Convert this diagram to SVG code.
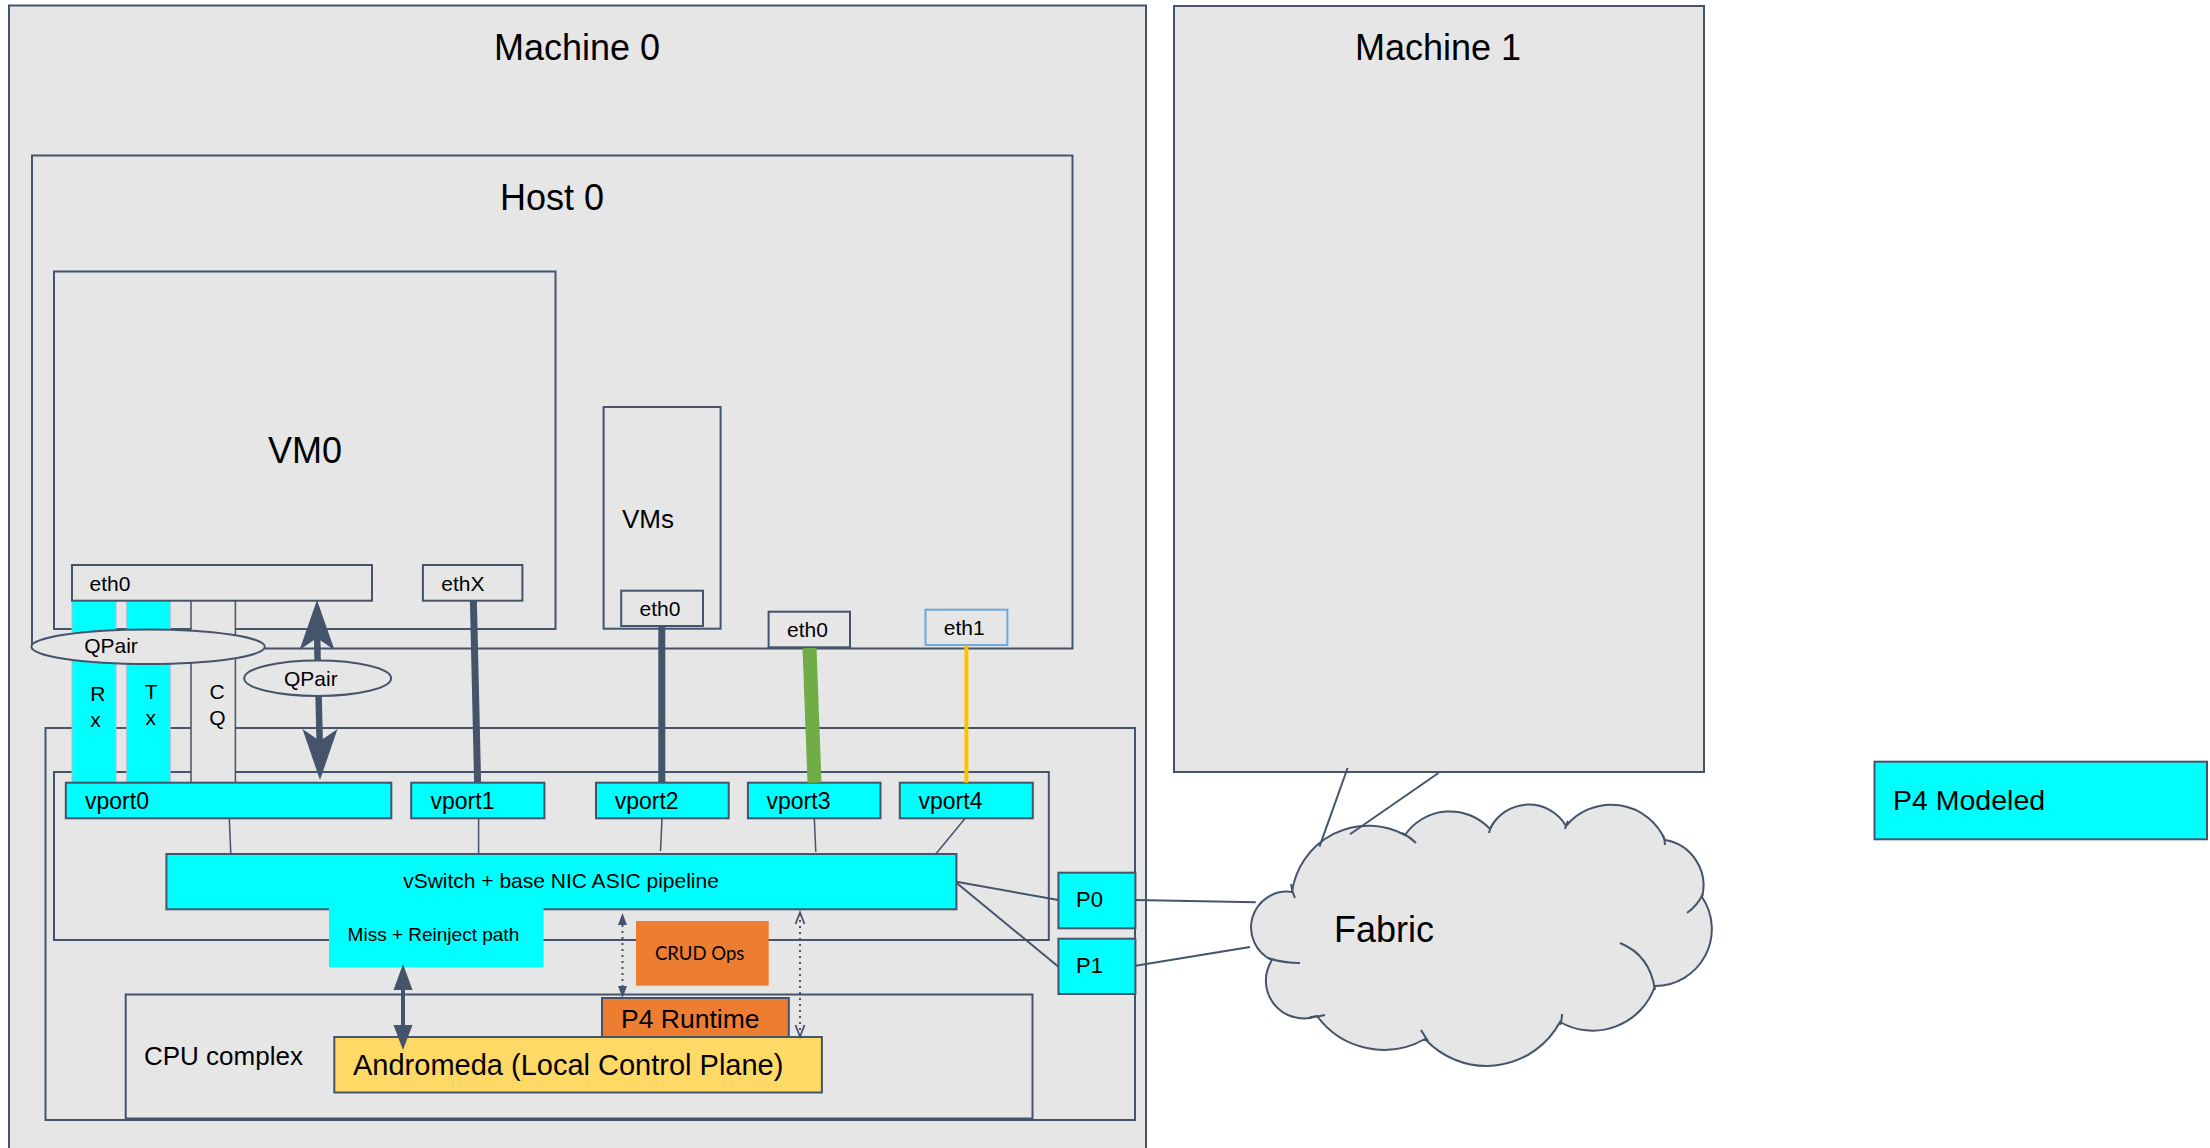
<svg xmlns="http://www.w3.org/2000/svg" width="2210" height="1148" viewBox="0 0 2210 1148">
<style>
.box{fill:#e6e6e6;stroke:#44546a;stroke-width:2}
.cy{fill:#00ffff;stroke:#44546a;stroke-width:2}
.col{fill:#00ffff;stroke:#a9bccb;stroke-width:1}
.t{font-family:"Liberation Sans",Arial,sans-serif;fill:#000}
.ln{stroke:#44546a;fill:none}
.ah{fill:#44546a;stroke:none}
</style>
<rect width="2210" height="1148" fill="#ffffff"/>

<g id="machine0">
<rect class="box" x="9" y="5.5" width="1137" height="1160"/>
<text class="t" x="577" y="60" font-size="36" text-anchor="middle">Machine 0</text>
</g>
<g id="machine1">
<rect class="box" x="1174" y="6" width="530" height="766"/>
<text class="t" x="1438" y="60" font-size="36" text-anchor="middle">Machine 1</text>
</g>
<g id="host0">
<rect class="box" x="32" y="155.5" width="1040.5" height="493"/>
<text class="t" x="552" y="210" font-size="36" text-anchor="middle">Host 0</text>
</g>
<g id="vm0">
<rect class="box" x="54" y="271.5" width="501.5" height="357.5"/>
<text class="t" x="305" y="463" font-size="36" text-anchor="middle">VM0</text>
</g>
<g id="vms">
<rect class="box" x="603.6" y="407" width="117" height="221.7"/>
<text class="t" x="622" y="528" font-size="26">VMs</text>
</g>
<g id="nic">
<rect class="box" x="45.5" y="728" width="1089.5" height="392"/>
</g>
<g id="nic-inner">
<rect class="box" x="54" y="772" width="994.8" height="168"/>
</g>
<g id="cpu-complex">
<rect class="box" x="125.7" y="994.5" width="906.8" height="124"/>
<text class="t" x="144" y="1065" font-size="26">CPU complex</text>
</g>

<g id="rx">
<rect class="col" x="72" y="601" width="44" height="181.7"/>
<text class="t" x="90.3" y="701" font-size="21">R</text>
<text class="t" x="90.3" y="727" font-size="21">x</text>
</g>
<g id="tx">
<rect class="col" x="126.7" y="601" width="43.6" height="181.7"/>
<text class="t" x="144.7" y="699" font-size="21">T</text>
<text class="t" x="145.4" y="725" font-size="21">x</text>
</g>
<g id="cq">
<rect class="box" style="stroke-width:1.5" x="191" y="600" width="44.4" height="182.7"/>
<text class="t" x="209.5" y="699" font-size="21">C</text>
<text class="t" x="209.3" y="725" font-size="21">Q</text>
</g>

<g id="vm0-eth0">
<rect class="box" x="72" y="565" width="300" height="35.7"/>
<text class="t" x="89.6" y="590.7" font-size="21">eth0</text>
</g>
<g id="vm0-ethX">
<rect class="box" x="422.9" y="565" width="99.5" height="35.7"/>
<text class="t" x="441.3" y="590.7" font-size="21">ethX</text>
</g>
<g id="vms-eth0">
<rect class="box" x="621.2" y="590.7" width="81.8" height="35.3"/>
<text class="t" x="639.6" y="616" font-size="21">eth0</text>
</g>
<g id="host-eth0">
<rect class="box" x="768.6" y="611.7" width="81.4" height="35.6"/>
<text class="t" x="787" y="637" font-size="21">eth0</text>
</g>
<g id="host-eth1">
<rect class="box" style="stroke:#6fa8dc" x="925.5" y="609.7" width="81.9" height="35.3"/>
<text class="t" x="943.8" y="635.3" font-size="21">eth1</text>
</g>

<g id="qpair1">
<ellipse class="box" cx="148.1" cy="646.7" rx="116.7" ry="17.3"/>
<text class="t" x="84.2" y="653.3" font-size="21">QPair</text>
</g>
<g id="qpair2">
<ellipse class="box" cx="317.6" cy="678.3" rx="73.5" ry="17.7"/>
<text class="t" x="284" y="685.7" font-size="21">QPair</text>
</g>

<g id="vport0">
<rect class="cy" x="65.8" y="782.7" width="325.5" height="35.6"/>
<text class="t" x="85" y="809" font-size="23">vport0</text>
</g>
<g id="vport1">
<rect class="cy" x="411.2" y="782.7" width="133.2" height="35.6"/>
<text class="t" x="430.5" y="809" font-size="23">vport1</text>
</g>
<g id="vport2">
<rect class="cy" x="596" y="782.7" width="132.7" height="35.6"/>
<text class="t" x="614.7" y="809" font-size="23">vport2</text>
</g>
<g id="vport3">
<rect class="cy" x="747.9" y="782.7" width="132.6" height="35.6"/>
<text class="t" x="766.5" y="809" font-size="23">vport3</text>
</g>
<g id="vport4">
<rect class="cy" x="899.8" y="782.7" width="133" height="35.6"/>
<text class="t" x="918.5" y="809" font-size="23">vport4</text>
</g>

<g id="vswitch">
<rect class="cy" x="166.4" y="854" width="790" height="55.3"/>
<text class="t" x="561" y="888" font-size="21" text-anchor="middle">vSwitch + base NIC ASIC pipeline</text>
</g>
<g id="miss-reinject">
<rect x="329" y="906" width="214.6" height="61.3" fill="#00ffff"/>
<text class="t" x="347.6" y="941" font-size="19">Miss + Reinject path</text>
</g>
<g id="crud-ops">
<rect x="636" y="921" width="132.7" height="64.7" fill="#ed7d31"/>
<text x="655" y="960" font-size="18.5" font-family="Lato,'Open Sans',sans-serif" fill="#000">CRUD Ops</text>
</g>
<g id="p4-runtime">
<rect x="602" y="998" width="186.8" height="40" fill="#ed7d31" stroke="#44546a" stroke-width="2"/>
<text class="t" x="621" y="1027.5" font-size="26.5">P4 Runtime</text>
</g>
<g id="andromeda">
<rect x="334.3" y="1037" width="487.6" height="55.5" fill="#ffd966" stroke="#44546a" stroke-width="2"/>
<text class="t" x="353" y="1075" font-size="29">Andromeda (Local Control Plane)</text>
</g>
<g id="p0">
<rect class="cy" x="1058.4" y="872.7" width="77" height="55.6"/>
<text class="t" x="1076" y="907.3" font-size="22">P0</text>
</g>
<g id="p1">
<rect class="cy" x="1058.4" y="938.7" width="77" height="55.3"/>
<text class="t" x="1076" y="973.3" font-size="22">P1</text>
</g>

<g id="fabric">
<path class="box" d="M1292,892 A77,77 0 0,1 1405,835 A54.5,54.5 0 0,1 1490,829 A43,43 0 0,1 1566,826 A58.6,58.6 0 0,1 1665,840 A46,46 0 0,1 1702,897 A57,57 0 0,1 1655,986 A65.8,65.8 0 0,1 1560,1022 A83.6,83.6 0 0,1 1425,1039 A83,83 0 0,1 1317,1016 A37.8,37.8 0 0,1 1272,960 A35.8,35.8 0 0,1 1292,892 Z"/>
<g class="ln" stroke-width="2">
<path d="M1291,884 Q1292,892 1295,898"/>
<path d="M1402,833 Q1410,837 1416,843"/>
<path d="M1494,822 Q1490,827 1489,833"/>
<path d="M1568,821 Q1566,825 1565,829"/>
<path d="M1663,835 Q1665,840 1665,845"/>
<path d="M1703,894 Q1697,906 1687,913"/>
<path d="M1655,990 Q1650,955 1620,943"/>
<path d="M1560,1025 Q1562,1020 1562,1014"/>
<path d="M1428,1041 Q1424,1035 1421,1030"/>
<path d="M1310,1017 Q1318,1017 1325,1015"/>
<path d="M1268,958 Q1283,963 1300,963"/>
</g>
<text class="t" x="1334" y="942" font-size="36">Fabric</text>
</g>

<g id="p4-modeled">
<rect class="cy" x="1874.5" y="761.7" width="332.5" height="77.6"/>
<text class="t" x="1893" y="810" font-size="28.5">P4 Modeled</text>
</g>

<g id="connectors">
<line class="ln" x1="473.4" y1="601" x2="477.6" y2="782.7" stroke-width="7"/>
<line class="ln" x1="661.8" y1="626.5" x2="661.8" y2="782.7" stroke-width="7"/>
<line x1="809.5" y1="648" x2="814.5" y2="782.7" stroke="#70ad47" stroke-width="14"/>
<line x1="966.4" y1="645.5" x2="966.4" y2="782.7" stroke="#ffc000" stroke-width="4"/>
<line class="ln" x1="317.2" y1="636" x2="317.6" y2="661" stroke-width="6.5"/>
<line class="ln" x1="318.6" y1="695.5" x2="319.7" y2="743" stroke-width="6.5"/>
<path class="ah" d="M317,600 L334.5,650 L317,638 L299.5,650 Z"/>
<path class="ah" d="M320,780 L337.5,729 L320,741 L302.5,729 Z"/>
<line class="ln" x1="229.3" y1="818.3" x2="230.8" y2="854" stroke-width="1.5"/>
<line class="ln" x1="478.6" y1="818.3" x2="478.6" y2="854" stroke-width="1.5"/>
<line class="ln" x1="662" y1="818.3" x2="660.5" y2="851" stroke-width="1.5"/>
<line class="ln" x1="814.3" y1="818.3" x2="815.8" y2="852" stroke-width="1.5"/>
<line class="ln" x1="965.2" y1="818.3" x2="935" y2="855" stroke-width="1.5"/>
<line class="ln" x1="956.4" y1="881.7" x2="1058.4" y2="900" stroke-width="2"/>
<line class="ln" x1="956.4" y1="882.7" x2="1058.4" y2="966.7" stroke-width="2"/>
<line class="ln" x1="1135.4" y1="900" x2="1255.7" y2="902.3" stroke-width="2"/>
<line class="ln" x1="1135.4" y1="965.7" x2="1250" y2="947" stroke-width="2"/>
<line class="ln" x1="1347.6" y1="768" x2="1319.5" y2="846.7" stroke-width="2"/>
<line class="ln" x1="1438.5" y1="773" x2="1350" y2="834.3" stroke-width="2"/>
<line class="ln" x1="403" y1="985" x2="403" y2="1030" stroke-width="4"/>
<path class="ah" d="M403,964 L412.5,990 L393.5,990 Z"/>
<path class="ah" d="M403,1050 L412.5,1025 L393.5,1025 Z"/>
<line class="ln" x1="622.5" y1="925" x2="622.5" y2="987" stroke-width="2" stroke-dasharray="2 4"/>
<path class="ah" d="M622.5,913 L627,925 L618,925 Z"/>
<path class="ah" d="M622.5,998 L627,986 L618,986 Z"/>
<line class="ln" x1="800" y1="914" x2="800" y2="1035" stroke-width="2" stroke-dasharray="2 4"/>
<path class="ln" stroke-width="1.8" d="M795.5,924 L800,912.5 L804.5,924"/>
<path class="ln" stroke-width="1.8" d="M795.5,1025 L800,1036.7 L804.5,1025"/>
</g>
</svg>
